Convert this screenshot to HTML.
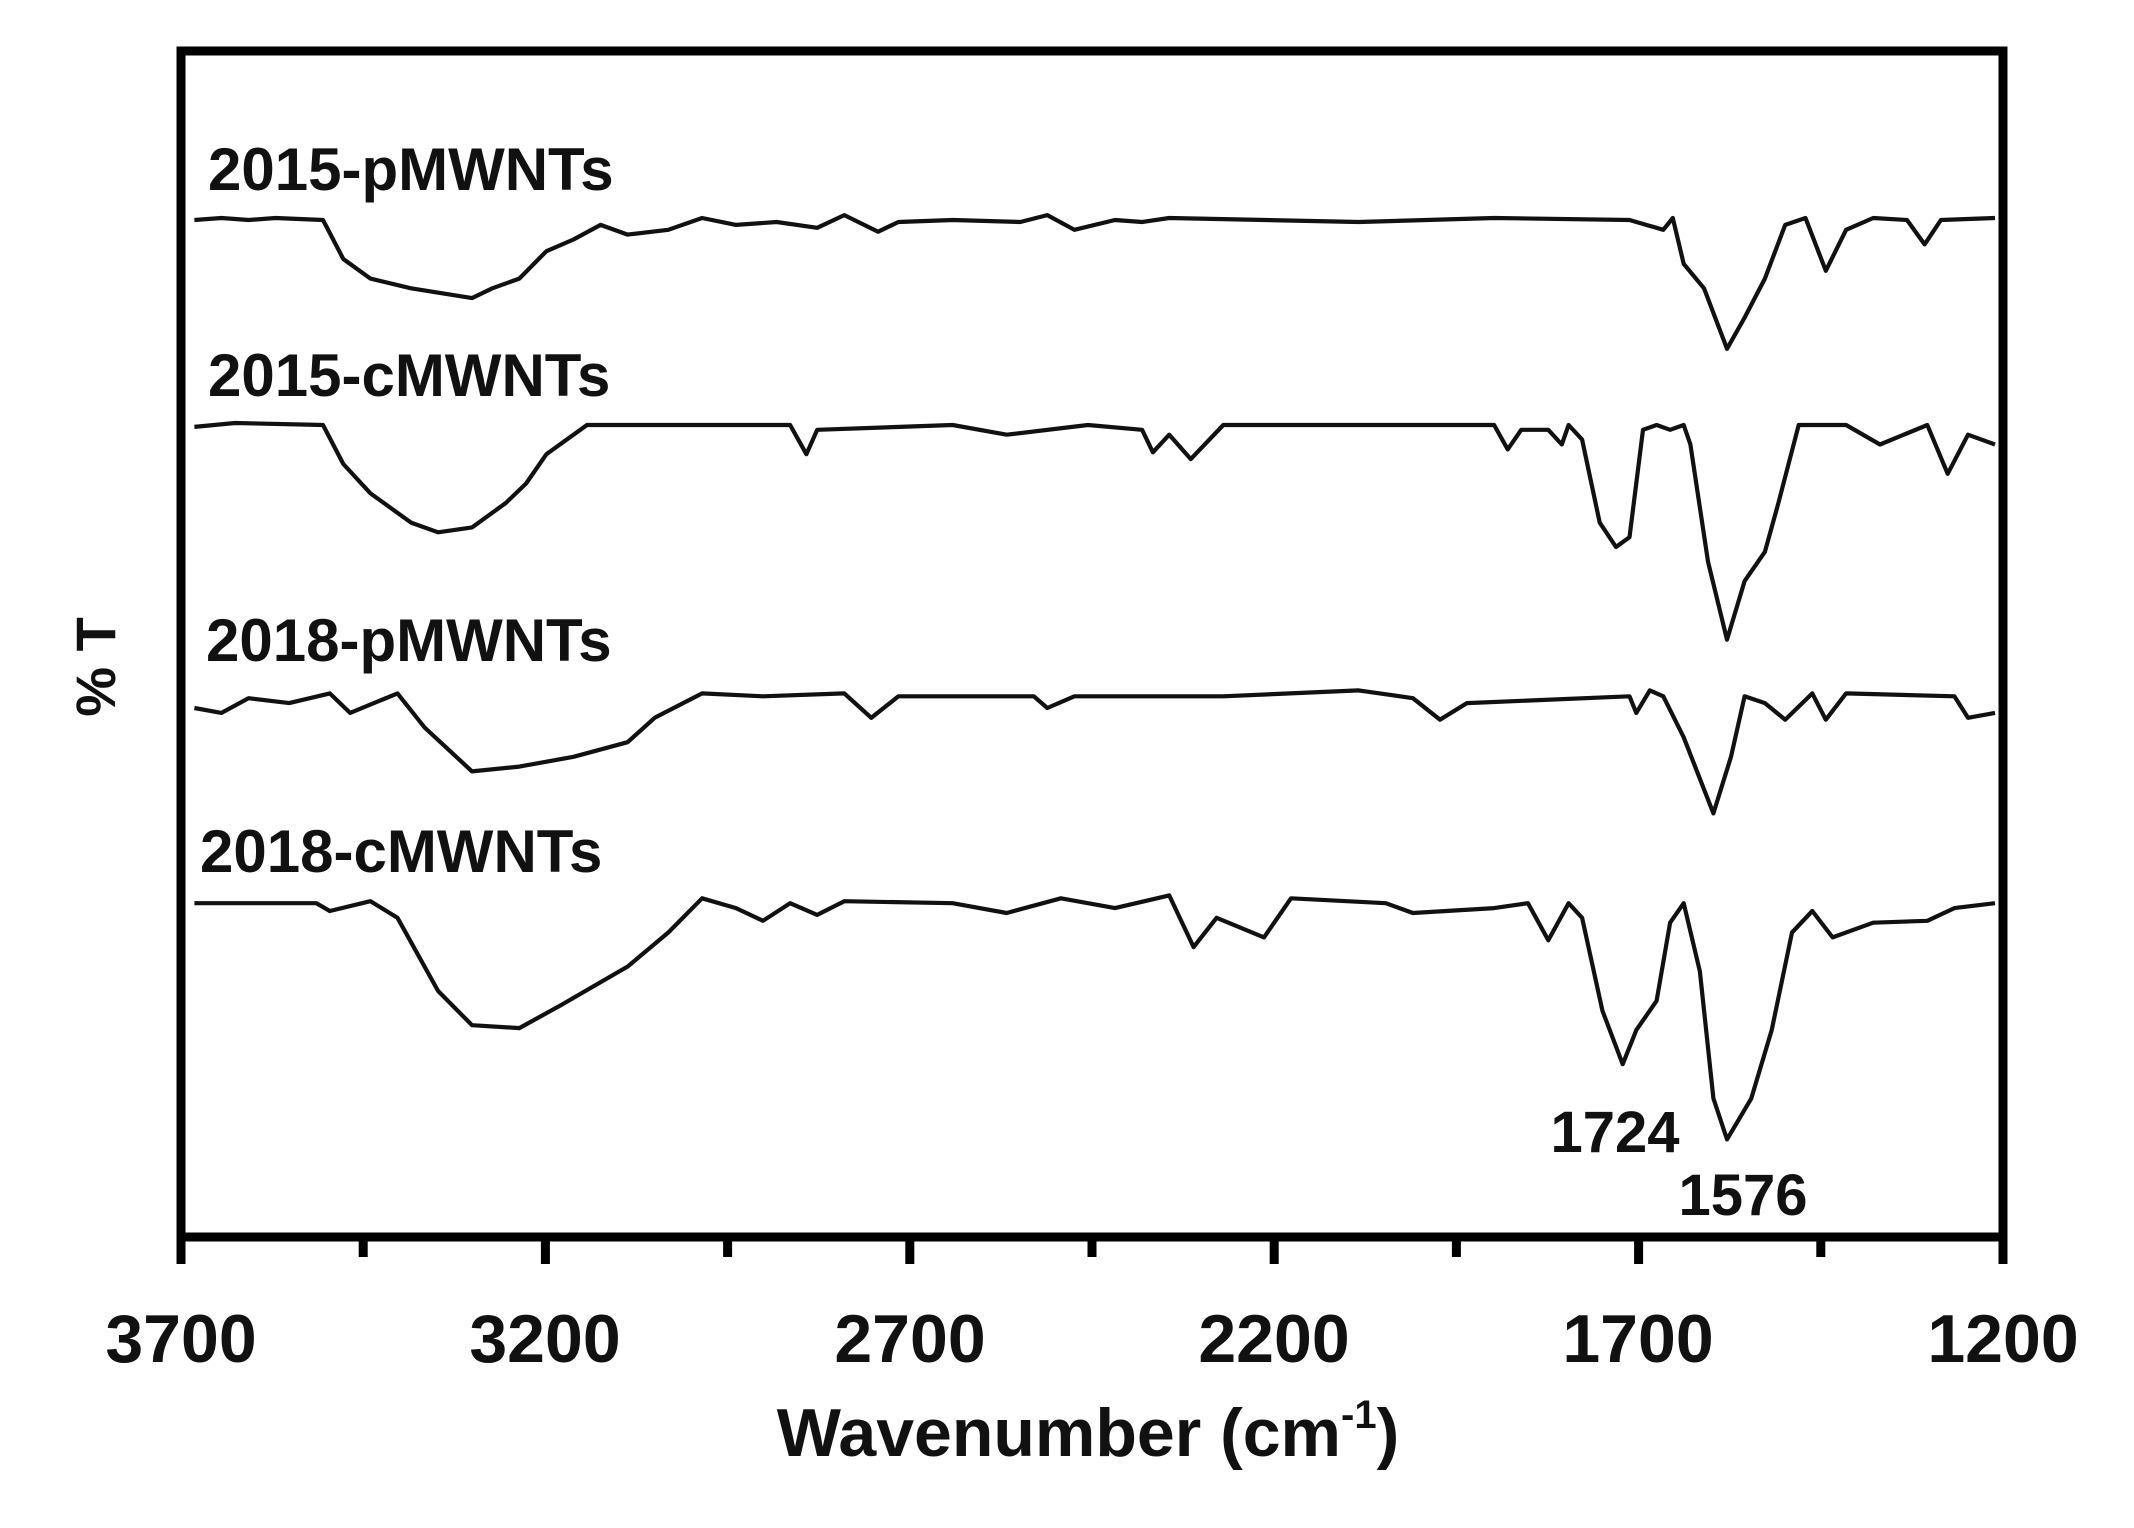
<!DOCTYPE html>
<html><head><meta charset="utf-8"><style>
html,body{margin:0;padding:0;background:#fff;}
svg{display:block;}
text{font-family:"Liberation Sans",sans-serif;font-weight:bold;fill:#111;}
</style></head><body>
<svg id="s" width="2134" height="1528" viewBox="0 0 2134 1528" xmlns="http://www.w3.org/2000/svg">
<rect x="0" y="0" width="2134" height="1528" fill="#fff"/>
<rect x="181" y="51" width="1822" height="1186" fill="none" stroke="#000" stroke-width="9"/>
<g id="ticks" stroke="#000" stroke-width="9"></g>
<g id="lines" fill="none" stroke="#111" stroke-width="4.2" stroke-linejoin="round"></g>
<g font-size="68" text-anchor="middle">
<text x="181" y="1362">3700</text>
<text x="545" y="1362">3200</text>
<text x="910" y="1362">2700</text>
<text x="1274" y="1362">2200</text>
<text x="1638" y="1362">1700</text>
<text x="2003" y="1362">1200</text>
<text x="1088" y="1456" font-size="68">Wavenumber (cm<tspan font-size="40" dy="-28">-1</tspan><tspan dy="28">)</tspan></text>
</g>
<text x="0" y="0" font-size="56" text-anchor="middle" transform="translate(115,667) rotate(-90)">% T</text>
<g font-size="60">
<text x="208" y="190">2015-pMWNTs</text>
<text x="208" y="396">2015-cMWNTs</text>
<text x="206" y="661">2018-pMWNTs</text>
<text x="200" y="872">2018-cMWNTs</text>
<text x="1615" y="1152" font-size="58" text-anchor="middle">1724</text>
<text x="1743" y="1215" font-size="58" text-anchor="middle">1576</text>
</g>
</svg>
<script>
var S=[
[140,230,160,228,180,230,200,228,235,230,250,270,270,290,300,300,345,310,360,300,380,290,400,262,420,250,440,235,460,245,490,240,515,228,540,235,570,232,600,238,620,225,645,242,660,232,700,230,750,232,770,225,790,240,820,230,840,232,860,228,1000,232,1100,228,1200,230,1225,240,1232,228,1240,275,1255,300,1272,362,1285,330,1300,290,1315,235,1330,228,1345,282,1360,240,1380,228,1405,230,1418,255,1430,230,1470,228],
[140,442,170,438,235,440,250,480,270,510,300,540,320,550,345,545,370,520,385,500,400,470,430,440,580,440,592,470,600,445,700,440,740,450,800,440,840,445,848,468,860,450,876,475,900,440,1100,440,1110,465,1120,445,1140,445,1150,460,1155,440,1165,455,1178,540,1190,565,1200,555,1210,445,1220,440,1230,445,1240,440,1245,460,1258,580,1272,660,1285,600,1300,570,1310,520,1325,440,1360,440,1385,460,1420,440,1435,490,1450,450,1470,460],
[140,730,160,735,180,720,210,725,240,715,255,735,290,715,310,750,345,795,380,790,420,780,460,765,480,740,515,715,560,718,620,715,640,740,660,718,760,718,770,730,790,718,900,718,1000,712,1040,720,1060,742,1080,725,1200,718,1205,735,1215,712,1225,718,1240,760,1262,838,1275,780,1285,718,1300,725,1315,742,1335,715,1345,742,1360,715,1440,718,1450,740,1470,735],
[140,930,230,930,240,938,270,928,290,945,320,1020,345,1055,380,1058,410,1035,460,995,490,960,515,925,540,935,560,948,580,930,600,942,620,928,700,930,740,940,780,925,820,935,860,922,878,975,895,945,930,965,950,925,1020,930,1040,940,1100,935,1125,930,1140,968,1155,930,1165,945,1180,1040,1195,1095,1205,1060,1220,1030,1230,950,1240,930,1252,1000,1262,1130,1272,1172,1290,1130,1305,1060,1320,960,1335,938,1350,965,1380,950,1420,948,1440,935,1470,930]];
var NS="http://www.w3.org/2000/svg",g=document.getElementById('lines');
S.forEach(function(a){var p=[];for(var i=0;i<a.length;i+=2){var x=181+(a[i]/0.735-177)*(1822/1831);var y=220+(a[i+1]-230)*0.976;if(x<186)x=186;if(x>1998)x=1998;p.push(x.toFixed(1)+','+y.toFixed(1));}
var e=document.createElementNS(NS,'polyline');e.setAttribute('points',p.join(' '));g.appendChild(e);});
var t=document.getElementById('ticks');
for(var k=0;k<=10;k++){var x=181+k*182.2;var e=document.createElementNS(NS,'line');e.setAttribute('x1',x);e.setAttribute('x2',x);e.setAttribute('y1',1237);e.setAttribute('y2',k%2?1257:1264);t.appendChild(e);}
</script>
</body></html>
